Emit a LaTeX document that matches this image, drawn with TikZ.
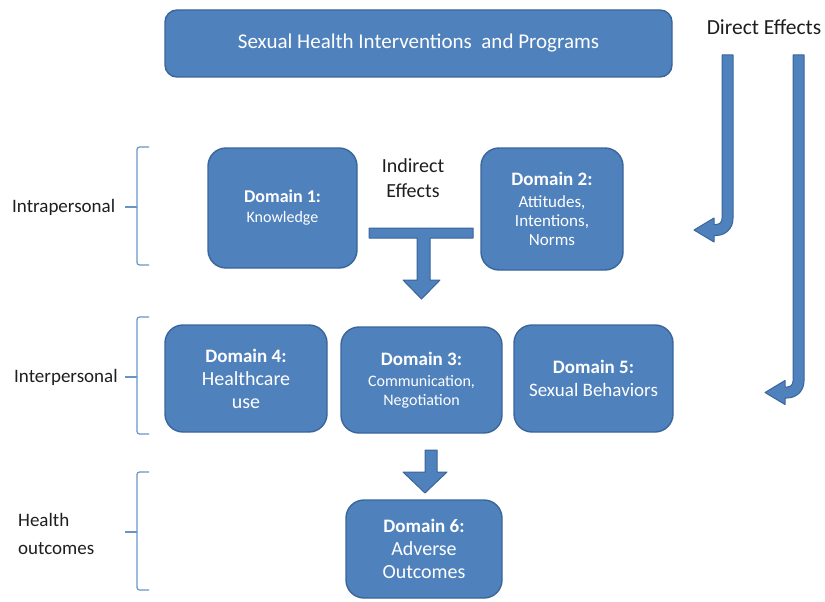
\documentclass[tikz,border=0pt]{standalone}
\usepackage{fontspec}
\setmainfont{Carlito}
\usetikzlibrary{positioning}

\definecolor{boxblue}{HTML}{4F81BD}
\definecolor{boxline}{HTML}{3A659A}
\definecolor{labelink}{HTML}{1E1E1E}

\newcommand{\fs}[2]{\fontsize{#1}{#2}\selectfont}
\newcommand{\dhead}[2]{{\fs{#1}{23}\bfseries #2}}

\tikzset{
  domainbox/.style={draw=boxline, fill=boxblue, line width=1.4pt, rounded corners=18pt,
    text=white, align=center, inner sep=0pt},
  blockarrow/.style={draw=boxline, fill=boxblue, line width=1pt, line join=round},
  bracket/.style={draw=boxblue!85, line width=1.2pt, rounded corners=2.5pt},
  level/.style={text=labelink, anchor=west, align=left, inner sep=0pt},
}

\begin{document}
\begin{tikzpicture}[x=1pt, y=-1pt]
  \useasboundingbox (0,0) rectangle (825,602);

  % programme box on top
  \node[domainbox, rounded corners=12pt, minimum width=507pt, minimum height=67pt,
    font=\fs{21}{25}] (prog) at (418.5,43.5) {Sexual Health Interventions\ \ and Programs};
  \node[text=labelink, inner sep=0pt, font=\fs{21.5}{24}] (direct) at (764,27) {Direct Effects};

  % intrapersonal row
  \node[domainbox, minimum width=149pt, minimum height=120pt, font=\fs{16}{20}] (d1) at (282.5,208)
    {\dhead{18}{Domain 1:}\\ Knowledge};
  \node[domainbox, minimum width=142pt, minimum height=122pt, font=\fs{17}{19}] (d2) at (552,209)
    {\dhead{19}{Domain 2:}\\[3pt] Attitudes,\\ Intentions,\\ Norms};
  \node[text=labelink, align=center, inner sep=0pt, font=\fs{20}{25}] (indirect) at (413,178)
    {Indirect\\ Effects};

  % interpersonal row
  \node[domainbox, minimum width=162pt, minimum height=107pt, font=\fs{20}{23}] (d4) at (246,378.5)
    {\dhead{19}{Domain 4:}\\ Healthcare\\ use};
  \node[domainbox, minimum width=161pt, minimum height=106pt, font=\fs{16}{19}] (d3) at (421.5,380)
    {\dhead{19}{Domain 3:}\\[2pt] Communication,\\ Negotiation};
  \node[domainbox, minimum width=159pt, minimum height=107pt, font=\fs{19}{23}] (d5) at (593.5,378.5)
    {\dhead{19}{Domain 5:}\\ Sexual Behaviors};

  % outcomes row
  \node[domainbox, minimum width=156pt, minimum height=98pt, font=\fs{20}{23}] (d6) at (424,549)
    {\dhead{19}{Domain 6:}\\ Adverse\\ Outcomes};

  % level labels and brackets
  \node[level, font=\fs{19}{24}] (intra) at (12,207) {Intrapersonal};
  \node[level, font=\fs{19}{24}] (inter) at (14,377) {Interpersonal};
  \node[level, font=\fs{19}{28}] (health) at (18,534) {Health\\ outcomes};
  \draw[bracket] (149,147) -- (137,147) -- (137,265) -- (149,265);
  \draw[bracket] (137,207) -- (125,207);
  \draw[bracket] (149,317) -- (137,317) -- (137,434) -- (149,434);
  \draw[bracket] (137,377) -- (125,377);
  \draw[bracket] (149,472) -- (137,472) -- (137,590) -- (149,590);
  \draw[bracket] (137,532) -- (125,532);

  % indirect effects: bar with arrow down
  \draw[blockarrow] (369,228) -- (473,228) -- (473,238) -- (430,238) -- (430,280) -- (440,280)
    -- (421.5,299) -- (403,280) -- (417,280) -- (417,238) -- (369,238) -- cycle;
  % row 2 to outcomes
  \draw[blockarrow] (425,450) -- (437,450) -- (437,472) -- (447,472) -- (425,493) -- (403,472)
    -- (425,472) -- cycle;

  % direct effects, bent arrows
  \draw[blockarrow] (722,55) -- (733,55) -- (733,218.5)
    .. controls (733,228) and (726,235.5) .. (716,235.5) -- (714,235.5) -- (714,242)
    -- (694,230) -- (714,218) -- (714,224.5) -- (716,224.5)
    .. controls (719.5,224.5) and (722,222) .. (722,218.5) -- cycle;
  \draw[blockarrow] (793,55) -- (804,55) -- (804,381)
    .. controls (804,390.5) and (797,398) .. (787,398) -- (785,398) -- (785,404.5)
    -- (765,392.5) -- (785,380.5) -- (785,387) -- (787,387)
    .. controls (790.5,387) and (793,384.5) .. (793,381) -- cycle;
\end{tikzpicture}
\end{document}
